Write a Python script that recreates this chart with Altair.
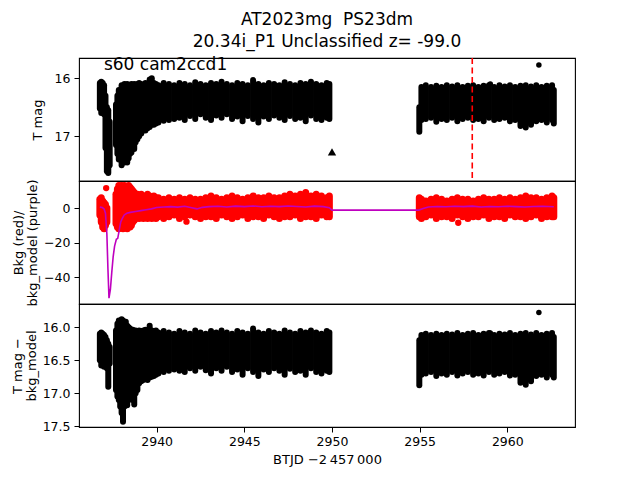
import altair as alt
import pandas as pd

# ---------------- data ----------------
title_lines = ["AT2023mg\u00a0 PS23dm", "20.34i_P1 Unclassified z= -99.0"]
x_ticks = [2940, 2945, 2950, 2955, 2960]
x_domain = [2935.57, 2963.86]

# sampling times of the dense light-curve bands
tA = [2936.76, 2936.84, 2936.92, 2937.00, 2937.08, 2937.16, 2937.24, 2937.32]
tB = [2937.68, 2937.76, 2937.84, 2937.92, 2938.00, 2938.08, 2938.16, 2938.24, 2938.32, 2938.40,
      2938.48, 2938.56, 2938.64, 2938.72, 2938.80, 2938.90, 2939.00, 2939.12, 2939.24, 2939.36,
      2939.48, 2939.60, 2939.72, 2939.84, 2939.96,
      2940.1, 2940.4, 2940.7, 2941.0, 2941.3, 2941.6, 2941.9, 2942.2, 2942.5, 2942.8,
      2943.1, 2943.4, 2943.7, 2944.0, 2944.3, 2944.6, 2944.9, 2945.2, 2945.5, 2945.8,
      2946.1, 2946.4, 2946.7, 2947.0, 2947.3, 2947.6, 2947.9, 2948.2, 2948.5, 2948.8,
      2949.1, 2949.4, 2949.7, 2949.85]
tC = [2954.98, 2955.10, 2955.35, 2955.65, 2955.95, 2956.25, 2956.55, 2956.85, 2957.15, 2957.45,
      2957.75, 2958.05, 2958.35, 2958.65, 2958.95, 2959.25, 2959.55, 2959.85, 2960.15, 2960.45,
      2960.75, 2961.05, 2961.35, 2961.65, 2961.95, 2962.25, 2962.55, 2962.65]

# panel 1: T mag band (bright edge / faint edge)
p1_top = ([16.08, 16.06, 16.08, 16.12, 16.3, 16.5, 16.55, 16.75]
          + [16.45, 16.3, 16.2, 16.35, 16.12, 16.2, 16.1, 16.15, 16.1, 16.12, 16.14, 16.1, 16.12,
             16.1, 16.12, 16.1, 16.08, 16.1, 16.12, 16.08, 16.1, 16.02, 16.0, 16.08, 16.1,
             16.12, 16.08, 16.1, 16.12, 16.08, 16.1, 16.12, 16.07, 16.1, 16.12, 16.08, 16.1,
             16.06, 16.1, 16.12, 16.08, 16.1, 16.12, 16.03, 16.1, 16.12, 16.08, 16.1, 16.12,
             16.07, 16.1, 16.12, 16.08, 16.1, 16.06, 16.1, 16.12, 16.08, 16.1]
          + [16.5, 16.15, 16.12, 16.15, 16.13, 16.15, 16.12, 16.14, 16.12, 16.15, 16.13, 16.12,
             16.15, 16.13, 16.12, 16.15, 16.12, 16.14, 16.12, 16.15, 16.13, 16.12, 16.14, 16.12,
             16.15, 16.13, 16.12, 16.2])
p1_bot = ([16.52, 16.6, 16.58, 16.62, 17.2, 17.6, 17.63, 17.5]
          + [17.15, 17.3, 17.4, 17.25, 17.5, 17.42, 17.45, 17.3, 17.45, 17.38, 17.3, 17.28, 17.2,
             17.22, 17.1, 17.05, 17.0, 16.95, 16.9, 16.9, 16.86, 16.84, 16.8, 16.8, 16.78,
             16.76, 16.73, 16.72, 16.7, 16.68, 16.72, 16.65, 16.7, 16.62, 16.68, 16.72, 16.64,
             16.68, 16.62, 16.7, 16.66, 16.74, 16.65, 16.7, 16.76, 16.66, 16.7, 16.64, 16.68,
             16.72, 16.65, 16.7, 16.68, 16.74, 16.64, 16.7, 16.72, 16.68, 16.7]
          + [16.92, 16.72, 16.7, 16.68, 16.75, 16.7, 16.72, 16.68, 16.74, 16.7, 16.68, 16.72,
             16.7, 16.74, 16.68, 16.72, 16.7, 16.68, 16.74, 16.72, 16.82, 16.85, 16.8, 16.74,
             16.72, 16.76, 16.72, 16.78])
p1_dot_t = [2959.03, 2961.8]
p1_dot_mag = [16.1, 15.77]
p1_tri_t = [2950.0]
p1_tri_mag = [17.27]
vline_t = [2958.0]
label_text = ["s60 cam2ccd1"]
label_t = [2936.99]
label_mag = [15.77]

# panel 2: background (red) and background model (purple)
p2A_t = [2936.76, 2936.84, 2936.92, 2937.00, 2937.08, 2937.16]
p2_lo = ([-4, -8, -11, -12, -10, -8]
         + [-9, -11, -12, -11, -10, -12, -11, -10, -12, -9, -11, -10, -8, -7, -6, -5, -6, -5, -6,
            -5, -6, -5, -6, -5, -6,
            -5, -6, -5, -4, -6, -5, -4, -5, -6, -5, -5, -6, -4, -5, -6, -5, -4, -6, -5, -5,
            -6, -4, -5, -6, -5, -5, -4, -6, -5, -5, -6, -4, -5, -5]
         + [-5, -6, -5, -4, -6, -5, -5, -6, -4, -5, -6, -5, -5, -4, -6, -5, -5, -6, -4, -5,
            -5, -6, -5, -4, -6, -5, -5, -5])
p2_hi = ([5, 6, 4, 3, 2, 0]
         + [8, 11, 13, 12, 13, 12, 13, 12, 11, 13, 12, 11, 10, 9, 8, 8, 7, 8, 7, 6, 8, 7, 6, 7, 6,
            6, 5, 6, 5, 6, 5, 6, 5, 5, 6, 7, 6, 5, 6, 7, 6, 5, 6, 7, 6, 6, 7, 6, 6, 7,
            8, 7, 8, 9, 7, 8, 7, 6, 7]
         + [6, 5, 4, 5, 6, 5, 4, 5, 6, 5, 5, 4, 5, 6, 5, 5, 6, 5, 6, 5, 6, 7, 6, 6, 5, 6, 7, 6])
p2_dot_t = [2937.12, 2941.7, 2957.2]
p2_dot_v = [11.5, -7.9, -8.5]
model_t = [2936.76, 2936.9, 2937.0, 2937.08, 2937.16, 2937.22, 2937.28, 2937.36, 2937.44, 2937.52,
           2937.6, 2937.7, 2937.78, 2937.86, 2937.95, 2938.04, 2938.15, 2938.3, 2938.5, 2938.8,
           2939.1, 2939.4, 2939.7, 2940.0, 2940.4, 2940.8, 2941.2, 2941.6, 2942.0, 2942.3,
           2942.6, 2943.0, 2943.5, 2944.0, 2944.5, 2945.0, 2945.5, 2946.0, 2946.5, 2947.0,
           2947.5, 2948.0, 2948.5, 2949.0, 2949.5, 2949.85, 2950.0, 2954.95, 2955.2, 2955.5,
           2956.0, 2956.5, 2957.0, 2957.5, 2958.0, 2958.5, 2959.0, 2959.5, 2960.0, 2960.5,
           2961.0, 2961.5, 2962.0, 2962.65]
model_v = [0.5, 0.3, -0.5, -3, -15, -35, -52, -47, -37, -28,
           -22, -18, -17.5, -13, -8, -6, -4, -3, -2.5, -2,
           -1.5, -1, -0.5, 0.3, 0.6, 0.8, 0.5, 1.0, 0.2, -0.5,
           0.4, 0.8, 1.0, 0.6, 1.1, 0.8, 1.2, 0.7, 1.0, 0.8,
           1.2, 0.9, 0.6, 1.1, 0.8, 0.2, -1.2, -1.2, -0.3, 0.6,
           0.9, 0.7, 1.0, 0.8, 1.1, 0.6, 0.9, 0.7, 1.0, 0.8,
           0.6, 0.9, 1.0, 0.7]

# panel 3: T mag - bkg_model
p3_top = ([16.1, 16.08, 16.1, 16.12, 16.15, 16.2, 16.25, 16.3]
          + [16.05, 15.95, 15.9, 15.92, 15.88, 15.9, 15.95, 15.92, 15.98, 16.0, 16.02, 16.05,
             16.04, 16.06, 16.05, 16.06, 16.05, 16.06, 16.05, 16.04, 16.06, 15.98, 16.05, 16.06,
             16.05,
             16.08, 16.06, 16.08, 16.1, 16.06, 16.08, 16.1, 16.05, 16.08, 16.1, 16.06, 16.08,
             16.05, 16.08, 16.1, 16.06, 16.08, 16.1, 16.02, 16.08, 16.1, 16.06, 16.08, 16.1,
             16.05, 16.08, 16.1, 16.06, 16.08, 16.05, 16.08, 16.1, 16.06, 16.08]
          + [16.2, 16.12, 16.1, 16.12, 16.1, 16.12, 16.1, 16.11, 16.09, 16.12, 16.1, 16.09,
             16.12, 16.1, 16.09, 16.12, 16.1, 16.11, 16.09, 16.12, 16.1, 16.09, 16.11, 16.09,
             16.12, 16.1, 16.09, 16.15])
p3_bot = ([16.5, 16.58, 16.55, 16.6, 16.5, 16.62, 16.9, 16.55]
          + [16.95, 17.05, 17.1, 17.2, 17.3, 17.43, 17.2, 17.15, 17.18, 17.1, 17.05, 17.02,
             17.1, 17.17, 17.0, 16.95, 16.85, 16.82, 16.8, 16.78, 16.8, 16.76, 16.75, 16.74,
             16.72,
             16.7, 16.68, 16.66, 16.64, 16.66, 16.68, 16.62, 16.66, 16.6, 16.65, 16.7, 16.62,
             16.66, 16.6, 16.68, 16.64, 16.72, 16.62, 16.68, 16.74, 16.64, 16.68, 16.62, 16.66,
             16.72, 16.63, 16.68, 16.66, 16.72, 16.62, 16.68, 16.7, 16.66, 16.68]
          + [16.88, 16.72, 16.7, 16.68, 16.74, 16.7, 16.72, 16.68, 16.73, 16.7, 16.68, 16.72,
             16.7, 16.73, 16.68, 16.72, 16.7, 16.68, 16.73, 16.72, 16.84, 16.87, 16.82, 16.74,
             16.72, 16.76, 16.72, 16.76])
p3_dot_t = [2959.03, 2961.8]
p3_dot_mag = [16.09, 15.78]

# ---------------- tables ----------------
t_all = tA + tB + tC
df1 = pd.DataFrame(list(zip(t_all, p1_top, p1_bot)), columns=["t", "a", "b"])
df2 = pd.DataFrame(list(zip(p2A_t + tB + tC, p2_lo, p2_hi)), columns=["t", "a", "b"])
df3 = pd.DataFrame(list(zip(t_all, p3_top, p3_bot)), columns=["t", "a", "b"])
dots1 = pd.DataFrame({"t": p1_dot_t, "v": p1_dot_mag})
tri1 = pd.DataFrame({"t": p1_tri_t, "v": p1_tri_mag})
vl = pd.DataFrame({"t": vline_t})
lab = pd.DataFrame({"t": label_t, "v": label_mag, "s": label_text})
dots2 = pd.DataFrame({"t": p2_dot_t, "v": p2_dot_v})
model = pd.DataFrame({"t": model_t, "v": model_v})
dots3 = pd.DataFrame({"t": p3_dot_t, "v": p3_dot_mag})

FONT = "DejaVu Sans"
W, H = 496, 123
LFS = 12.5
xs = alt.Scale(domain=x_domain, nice=False, zero=False)


def yaxis(title, values, fmt, tp):
    return alt.Axis(title=title, values=values, format=fmt, grid=False, domain=False,
                    tickSize=5, tickColor="black", tickWidth=1, labelPadding=4,
                    labelFontSize=LFS, labelFont=FONT, labelColor="black",
                    titleFontSize=13, titleFont=FONT, titleFontWeight="normal",
                    titleColor="black", titlePadding=tp, titleLineHeight=14)


xnone = alt.X("t:Q", scale=xs, axis=None)

# ----- panel 1 -----
y1s = alt.Scale(domain=[15.65, 17.77], reverse=True, nice=False, zero=False)
band1 = alt.Chart(df1).mark_rule(color="black", strokeWidth=6, strokeCap="round").encode(
    x=xnone, y=alt.Y("a:Q", scale=y1s, axis=yaxis("T mag", [16, 17], "d", 10)), y2="b:Q")
d1 = alt.Chart(dots1).mark_circle(color="black", size=30, opacity=1).encode(
    x=xnone, y=alt.Y("v:Q", scale=y1s))
tr1 = alt.Chart(tri1).mark_point(shape="triangle-up", filled=True, color="black", size=70,
                                 opacity=1).encode(x=xnone, y=alt.Y("v:Q", scale=y1s))
vr = alt.Chart(vl).mark_rule(color="red", strokeDash=[6, 3.5], strokeWidth=1.6).encode(x=xnone)
tx = alt.Chart(lab).mark_text(align="left", baseline="middle", fontSize=17, font=FONT,
                              color="black").encode(x=xnone, y=alt.Y("v:Q", scale=y1s), text="s:N")
panel1 = alt.layer(band1, d1, tr1, vr, tx).properties(width=W, height=H)

# ----- panel 2 -----
y2s = alt.Scale(domain=[-55.4, 15.6], nice=False, zero=False)
band2 = alt.Chart(df2).mark_rule(color="#ff0000", strokeWidth=7, strokeCap="round").encode(
    x=xnone,
    y=alt.Y("a:Q", scale=y2s,
            axis=yaxis(["Bkg (red)/", "bkg_model (purple)"], [-40, -20, 0], "d", 4)),
    y2="b:Q")
d2 = alt.Chart(dots2).mark_circle(color="#ff0000", size=40, opacity=1).encode(
    x=xnone, y=alt.Y("v:Q", scale=y2s))
m2 = alt.Chart(model).mark_line(color="#bf00bf", strokeWidth=1.6).encode(
    x=xnone, y=alt.Y("v:Q", scale=y2s))
panel2 = alt.layer(band2, d2, m2).properties(width=W, height=H)

# ----- panel 3 -----
y3s = alt.Scale(domain=[15.65, 17.51], reverse=True, nice=False, zero=False)
xaxis = alt.Axis(values=x_ticks, format="d", grid=False, domain=False, tickSize=5,
                 tickColor="black", labelPadding=3, labelFontSize=LFS, labelFont=FONT,
                 labelColor="black", title="BTJD \u22122\u2009457\u2009000", titleFontSize=13,
                 titleFont=FONT, titleFontWeight="normal", titleColor="black", titlePadding=6)
xb = alt.X("t:Q", scale=xs, axis=xaxis)
band3 = alt.Chart(df3).mark_rule(color="black", strokeWidth=6, strokeCap="round").encode(
    x=xb,
    y=alt.Y("a:Q", scale=y3s,
            axis=yaxis(["T mag \u2212", "bkg_model"], [16.0, 16.5, 17.0, 17.5], ".1f", 4)),
    y2="b:Q")
d3 = alt.Chart(dots3).mark_circle(color="black", size=30, opacity=1).encode(
    x=xb, y=alt.Y("v:Q", scale=y3s))
panel3 = alt.layer(band3, d3).properties(width=W, height=H)

chart = alt.vconcat(panel1, panel2, panel3, spacing=0, bounds="flush").properties(
    title=alt.TitleParams(text=title_lines, fontSize=17, font=FONT, fontWeight="normal",
                          color="black", anchor="middle", frame="group", lineHeight=22,
                          offset=4),
    padding={"left": 2, "top": 3, "right": 5, "bottom": 5},
    background="white",
).configure_view(stroke="black", strokeWidth=1.1)

chart.save("out.html", embed_options={"renderer": "svg", "actions": False})
